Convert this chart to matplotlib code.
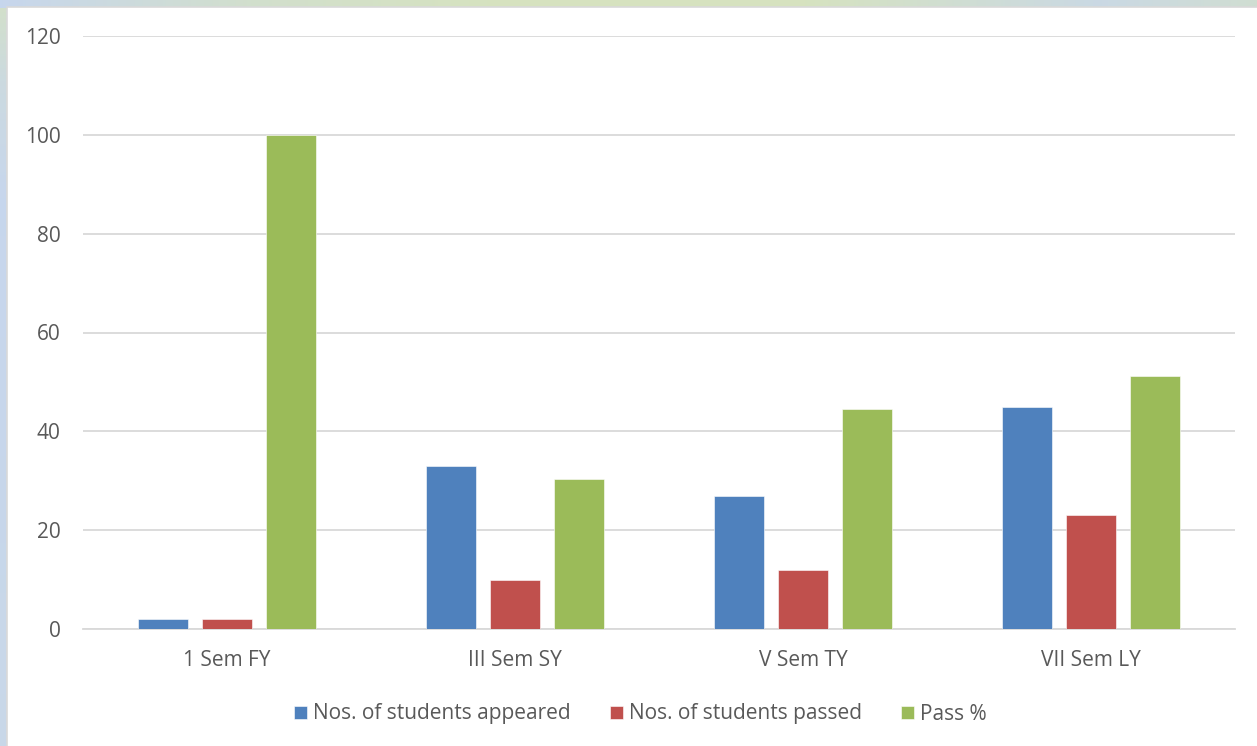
import numpy as np
import matplotlib
matplotlib.use("Agg")
import matplotlib.pyplot as plt
from matplotlib.patches import Rectangle

categories = ["1 Sem FY", "III Sem SY", "V Sem TY", "VII Sem LY"]
appeared = [2, 33, 27, 45]
passed = [2, 10, 12, 23]
pass_pct = [100, 30.3, 44.44, 51.11]
series_names = ["Nos. of students appeared", "Nos. of students passed", "Pass %"]
yticks = [0, 20, 40, 60, 80, 100, 120]

colors = ["#4f81bd", "#c0504d", "#9bbb59"]
txt = "#595959"
W, H = 1257, 746
plt.rcParams['font.family'] = ['Open Sans', 'DejaVu Sans']

fig = plt.figure(figsize=(W / 100, H / 100), dpi=100)

# decorative gradient border
bg = fig.add_axes([0, 0, 1, 1], zorder=-10)
blue = np.array([0.78, 0.84, 0.93])
green = np.array([0.84, 0.89, 0.75])
xs = np.arange(W)
ys = np.arange(H)
wt = np.interp(xs, [0, 250, 500, 800, 1100, 1257], [0.0, 0.7, 1.0, 1.0, 0.2, 0.6])
wl = np.interp(ys, [0, 80, 200, 746], [0.8, 0.3, 0.0, 0.1])
w = np.where(ys[:, None] < 8, wt[None, :], wl[:, None])
img = blue[None, None, :] * (1 - w[..., None]) + green[None, None, :] * w[..., None]
bg.imshow(img, extent=[0, W, H, 0], aspect='auto', interpolation='bilinear')
bg.add_patch(Rectangle((7, 7), W, H, facecolor='white', edgecolor='#d9d9d9', linewidth=1.2))
bg.set_xlim(0, W)
bg.set_ylim(H, 0)
bg.axis('off')

ax = fig.add_axes([83 / W, 1 - 629 / H, (1235 - 83) / W, (629 - 36) / H])
ax.set_facecolor('none')
x = np.arange(len(categories))
bw = 0.176
step = 0.222
for i, (vals, c, name) in enumerate(zip([appeared, passed, pass_pct], colors, series_names)):
    ax.bar(x + (i - 1) * step, vals, width=bw, color=c, label=name, zorder=3,
           edgecolor='white', linewidth=0.4)

ax.set_xlim(-0.5, len(categories) - 0.5)
ax.set_ylim(0, 120)
ax.set_yticks(yticks)
ax.set_xticks(x)
ax.set_xticklabels(categories)
ax.grid(axis='y', color='#d9d9d9', linewidth=1.3, zorder=0)
ax.tick_params(axis='both', length=0, labelsize=15, labelcolor=txt)
ax.tick_params(axis='y', pad=16)
ax.tick_params(axis='x', pad=15)
for s in ['top', 'right', 'left']:
    ax.spines[s].set_visible(False)
ax.spines['bottom'].set_color('#d9d9d9')
ax.spines['bottom'].set_linewidth(1.3)

leg = fig.legend(loc='center', bbox_to_anchor=(0.5 + 12 / W, 1 - 714 / H), ncol=3, frameon=False,
                 fontsize=15, handlelength=0.6, handleheight=0.6, handletextpad=0.3,
                 columnspacing=1.9, labelcolor=txt)

fig.savefig("out.png", dpi=100)
